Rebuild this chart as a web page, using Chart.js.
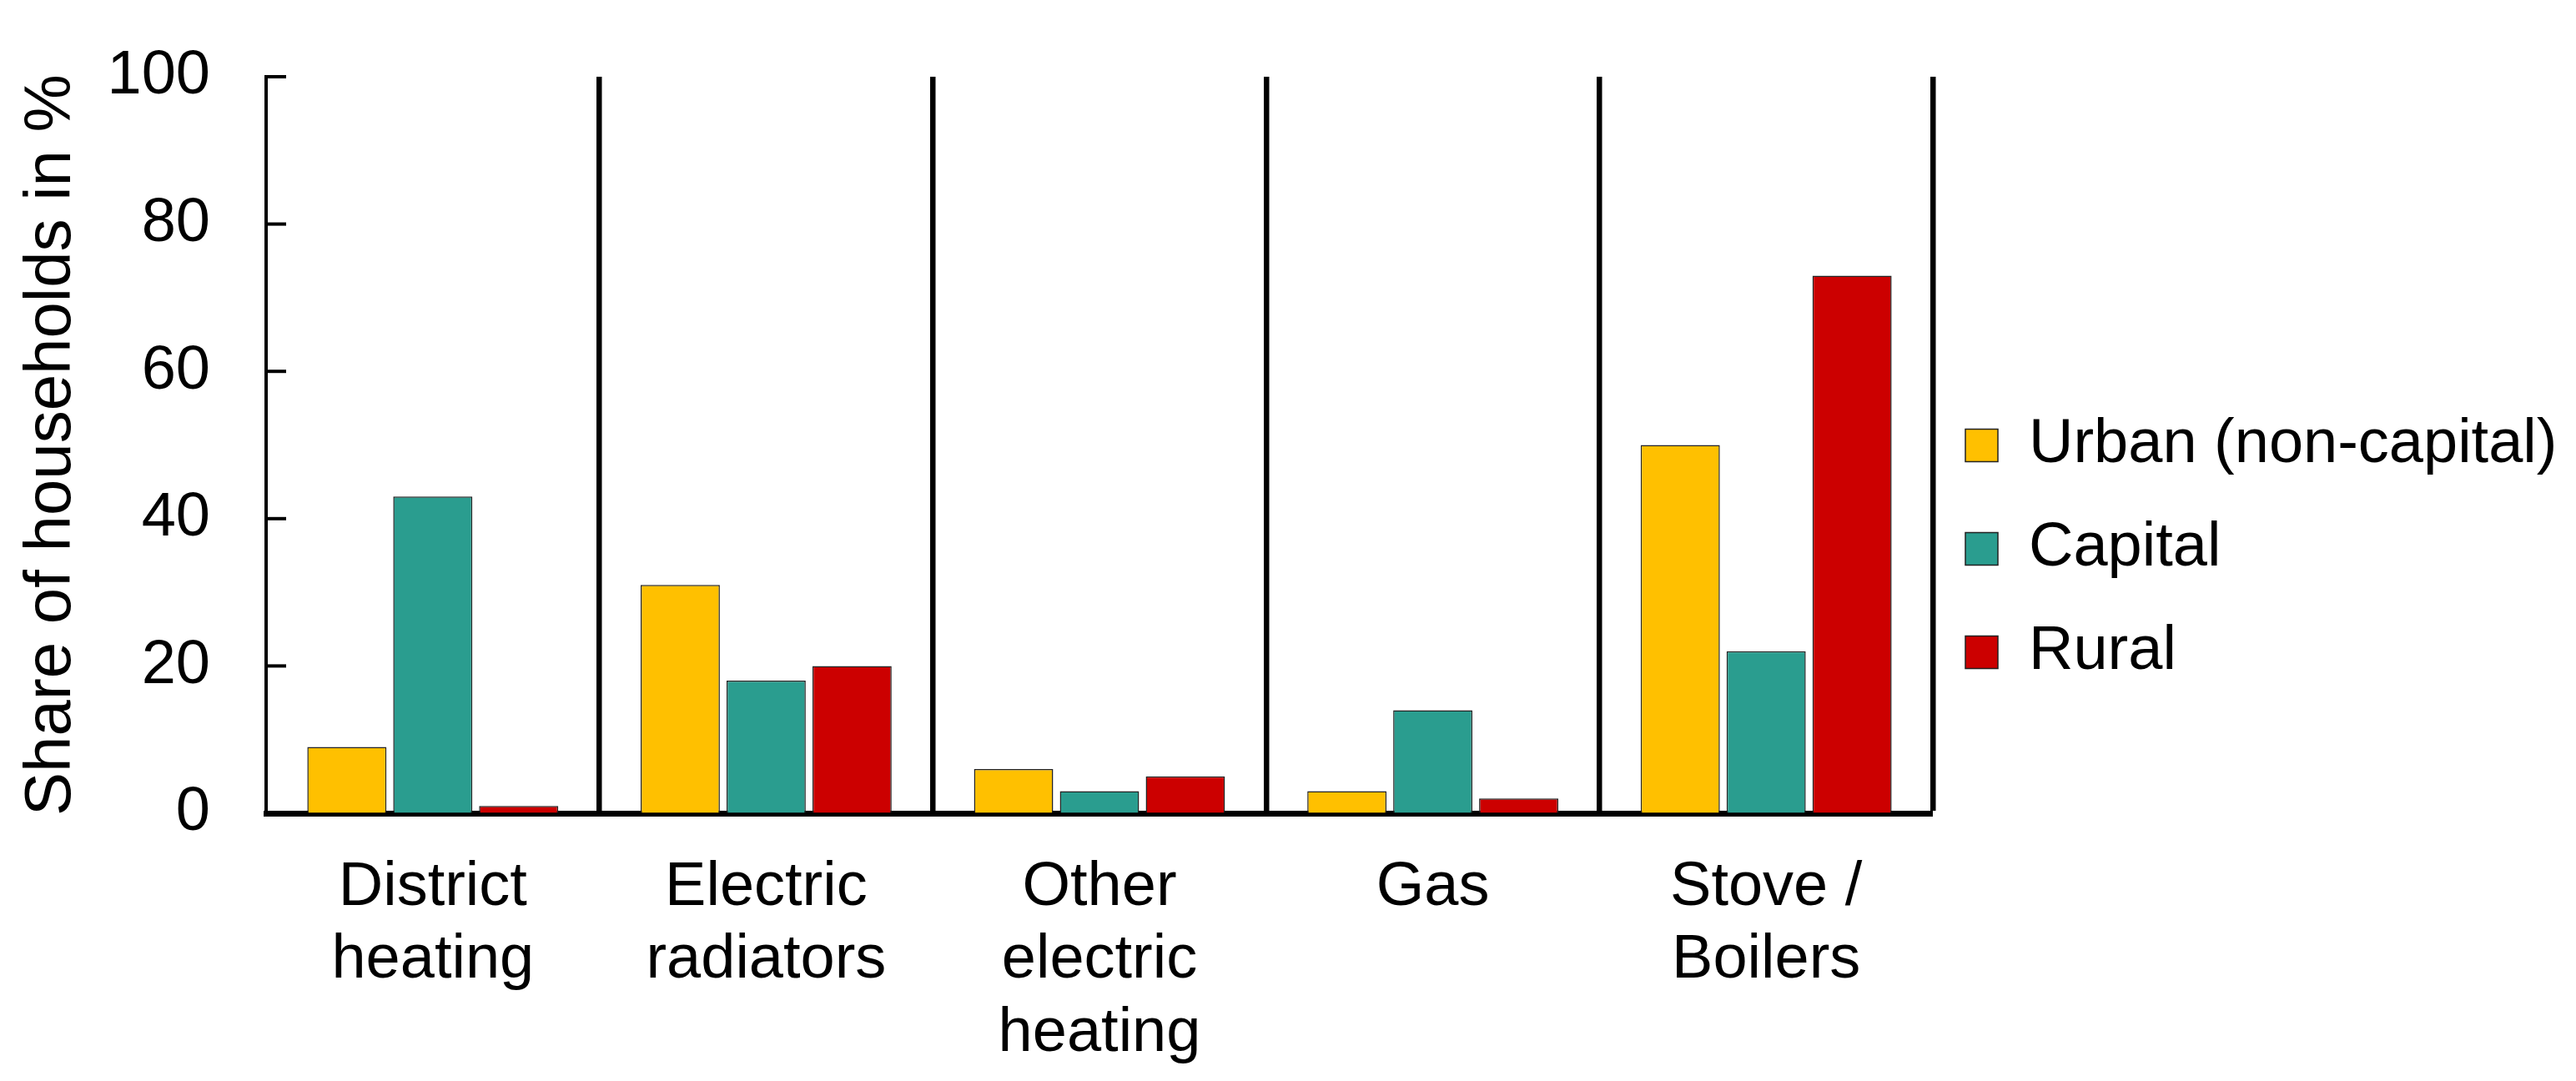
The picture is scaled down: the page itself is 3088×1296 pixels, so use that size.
<!DOCTYPE html>
<html>
<head>
<meta charset="utf-8">
<script src="https://cdn.jsdelivr.net/npm/chart.js@4.4.1/dist/chart.umd.min.js"></script>
<style>
  html, body { margin: 0; padding: 0; background: #fff; }
  #wrap { width: 3088px; height: 1296px; }
</style>
</head>
<body>
<div id="wrap"><canvas id="chart" width="3088" height="1296"></canvas></div>
<script>
// categories (multi-line tick labels)
const categories = [
  ["District", "heating"],
  ["Electric", "radiators"],
  ["Other", "electric", "heating"],
  ["Gas"],
  ["Stove /", "Boilers"]
];
const seriesNames = ["Urban (non-capital)", "Capital", "Rural"];
const urban = [9, 31, 6, 3, 50];
const capital = [43, 18, 3, 14, 22];
const rural = [1, 20, 5, 2, 73];
const yTicks = [0, 20, 40, 60, 80, 100];
const colors = ["#FFC000", "#2A9D8F", "#CC0000"];

const fontFamily = "'Liberation Sans', Arial, sans-serif";
const fontSize = 74;

// inward tick marks on the y axis
const innerTicks = {
  id: "innerTicks",
  afterDatasetsDraw(chart) {
    const y = chart.scales.y;
    const ctx = chart.ctx;
    const left = chart.chartArea.left;
    ctx.save();
    ctx.strokeStyle = "#000";
    ctx.lineWidth = 4;
    yTicks.forEach(v => {
      const py = y.getPixelForValue(v);
      ctx.beginPath();
      ctx.moveTo(left, py);
      ctx.lineTo(left + 24, py);
      ctx.stroke();
    });
    ctx.restore();
  }
};

// fixed legend width so the plot ends where the reference does,
// then nudge the legend a little to the left
const legendFit = {
  id: "legendFit",
  beforeInit(chart) {
    const fit = chart.legend.fit;
    chart.legend.fit = function () {
      fit.call(this);
      this.width = 771;
    };
  },
  afterLayout(chart) {
    chart.legend.left -= 11;
    chart.legend.right -= 11;
  }
};

const ctx = document.getElementById("chart").getContext("2d");
new Chart(ctx, {
  type: "bar",
  data: {
    labels: categories,
    datasets: [urban, capital, rural].map((d, i) => ({
      label: seriesNames[i],
      data: d,
      backgroundColor: colors[i],
      borderColor: "#222",
      borderWidth: 1.5,
      barPercentage: 0.922,
      categoryPercentage: 0.773
    }))
  },
  options: {
    responsive: false,
    animation: false,
    devicePixelRatio: 1,
    layout: { padding: { top: 20, bottom: 0, left: 0, right: 0 } },
    plugins: {
      tooltip: { enabled: false },
      legend: {
        position: "right",
        labels: {
          color: "#000",
          font: { family: fontFamily, size: fontSize },
          boxWidth: 39,
          boxHeight: 39,
          padding: 50
        }
      }
    },
    scales: {
      x: {
        afterFit(scale) { scale.height = 321; },
        grid: {
          offset: true,
          color: "#000",
          lineWidth: c => (c.index === 0 ? 0 : 6.5),
          drawTicks: false,
          drawOnChartArea: true
        },
        border: { display: true, color: "#000", width: 7 },
        ticks: {
          color: "#000",
          padding: 46,
          maxRotation: 0,
          autoSkip: false,
          font: { family: fontFamily, size: fontSize, lineHeight: 1.18 }
        }
      },
      y: {
        min: 0,
        max: 100,
        afterFit(scale) { scale.width = 319; },
        afterBuildTicks(scale) { scale.ticks = yTicks.map(v => ({ value: v })); },
        grid: { drawOnChartArea: false, drawTicks: false },
        border: { display: true, color: "#000", width: 4 },
        ticks: {
          color: "#000",
          padding: 67,
          font: { family: fontFamily, size: fontSize, lineHeight: 0.676 }
        },
        title: {
          display: true,
          text: "Share of households in %",
          color: "#000",
          padding: { top: 16, bottom: 0 },
          font: { family: fontFamily, size: 78 }
        }
      }
    }
  },
  plugins: [innerTicks, legendFit]
});
</script>
</body>
</html>
